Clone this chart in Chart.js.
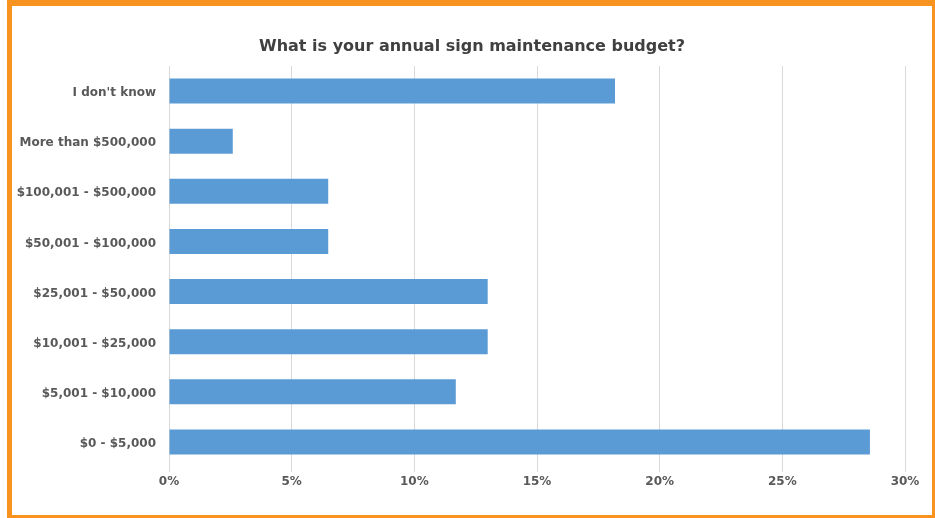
<!DOCTYPE html>
<html>
<head>
<meta charset="utf-8">
<script src="https://cdn.jsdelivr.net/npm/chart.js@4"></script>
<style>
  html, body { margin: 0; padding: 0; background: #fff; }
  #wrap { position: absolute; left: 0; top: 0; width: 935px; height: 518px; }
  #frame { position: absolute; left: 7px; top: 0px; width: 920px; height: 509px;
           border-style: solid; border-color: #F7931E;
           border-width: 6px 4px 3px 5px; pointer-events: none; }
  canvas { position: absolute; left: 0; top: 0; }
</style>
</head>
<body>
<div id="wrap">
  <canvas id="c" width="935" height="518"></canvas>
  <div id="frame"></div>
</div>
<script>
const title = "What is your annual sign maintenance budget?";
const categories = [
  "I don't know",
  "More than $500,000",
  "$100,001 - $500,000",
  "$50,001 - $100,000",
  "$25,001 - $50,000",
  "$10,001 - $25,000",
  "$5,001 - $10,000",
  "$0 - $5,000"
];
const percentages = [18.18, 2.60, 6.49, 6.49, 12.99, 12.99, 11.69, 28.57];
const xTicks = [0, 5, 10, 15, 20, 25, 30];

const FONT = "'DejaVu Sans', Verdana, sans-serif";

const titlePlugin = {
  id: 'offsetTitle',
  afterDraw(chart) {
    const c = chart.ctx;
    c.save();
    c.font = "bold 16px " + FONT;
    c.fillStyle = '#404040';
    c.textAlign = 'center';
    c.textBaseline = 'middle';
    c.fillText(title, 472, 47);
    c.restore();
  }
};

const ctx = document.getElementById('c');
new Chart(ctx, {
  type: 'bar',
  data: {
    labels: categories,
    datasets: [{
      data: percentages,
      backgroundColor: '#5B9BD5',
      borderWidth: 0,
      categoryPercentage: 0.5,
      barPercentage: 1.0
    }]
  },
  plugins: [titlePlugin],
  options: {
    indexAxis: 'y',
    responsive: false,
    animation: false,
    devicePixelRatio: 1,
    layout: { padding: { top: 66, right: 30, bottom: 0, left: 0 } },
    plugins: {
      legend: { display: false },
      tooltip: { enabled: false },
      title: { display: false }
    },
    scales: {
      x: {
        min: 0,
        max: 30,
        afterBuildTicks: (scale) => { scale.ticks = xTicks.map(v => ({ value: v })); },
        afterFit: (scale) => { scale.height = 51; },
        grid: { color: '#D9D9D9', lineWidth: 1, drawTicks: true, tickLength: 5, tickColor: '#D9D9D9' },
        border: { display: false },
        ticks: {
          color: '#595959',
          font: { family: FONT, size: 12, weight: 'bold' },
          padding: 3,
          maxRotation: 0,
          callback: (v) => v + '%'
        }
      },
      y: {
        afterFit: (scale) => { scale.width = 169; },
        grid: { display: false, drawTicks: false },
        border: { display: false },
        ticks: {
          color: '#595959',
          font: { family: FONT, size: 12, weight: 'bold' },
          padding: 13,
          labelOffset: 2
        }
      }
    }
  }
});
</script>
</body>
</html>
